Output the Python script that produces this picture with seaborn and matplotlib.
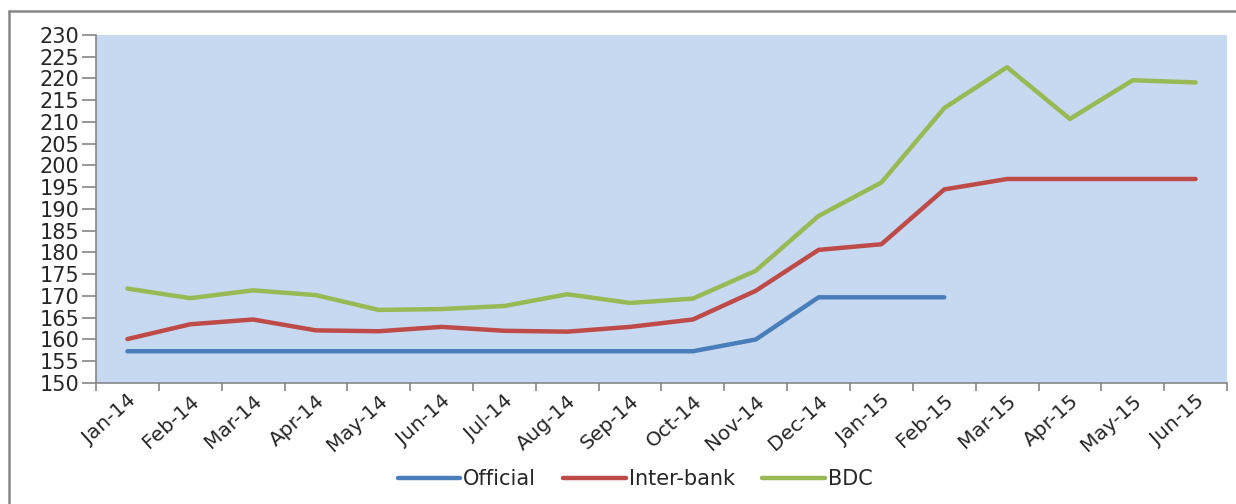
import numpy as np
import pandas as pd
import seaborn as sns
from matplotlib import pyplot as plt
from matplotlib.lines import Line2D
from matplotlib.ticker import FixedLocator

# exchange rate data (N/US$)
months = ['Jan-14', 'Feb-14', 'Mar-14', 'Apr-14', 'May-14', 'Jun-14', 'Jul-14', 'Aug-14', 'Sep-14',
          'Oct-14', 'Nov-14', 'Dec-14', 'Jan-15', 'Feb-15', 'Mar-15', 'Apr-15', 'May-15', 'Jun-15']
official = [157.3, 157.3, 157.3, 157.3, 157.3, 157.3, 157.3, 157.3, 157.3,
            157.3, 160.0, 169.7, 169.7, 169.7, np.nan, np.nan, np.nan, np.nan]
interbank = [160.1, 163.5, 164.6, 162.1, 161.9, 162.9, 162.0, 161.8, 162.9,
             164.6, 171.2, 180.6, 181.9, 194.5, 196.9, 196.9, 196.9, 196.9]
bdc = [171.7, 169.5, 171.3, 170.2, 166.8, 167.0, 167.7, 170.4, 168.4,
       169.4, 175.8, 188.4, 196.1, 213.2, 222.6, 210.7, 219.6, 219.1]

series_names = ['Official', 'Inter-bank', 'BDC']
colors = ['#4A7EBB', '#BE4B48', '#98B954']

df = pd.DataFrame({'Month': months, 'Official': official, 'Inter-bank': interbank, 'BDC': bdc})
long_df = df.melt(id_vars='Month', var_name='Series', value_name='Rate').dropna()

sns.set_style('white')
plt.rcParams['font.family'] = ['DejaVu Sans']

fig = plt.figure(figsize=(12.36, 5.04), dpi=100)
ax = fig.add_axes([96 / 1236, 1 - 383 / 504, (1227 - 96) / 1236, (383 - 35) / 504])

sns.lineplot(data=long_df, x='Month', y='Rate', hue='Series', hue_order=series_names,
             palette=colors, linewidth=3.2, sort=False, ax=ax)

ax.set_facecolor('#C6D9F0')
ax.set_xlim(-0.5, len(months) - 0.5)
ax.set_ylim(150, 230)
ax.set_yticks(np.arange(150, 231, 5))
ax.set_xlabel('')
ax.set_ylabel('')

for s in ['top', 'right']:
    ax.spines[s].set_visible(False)
for s in ['left', 'bottom']:
    ax.spines[s].set_color('#868686')
    ax.spines[s].set_linewidth(1.2)

# category labels in the middle, tick marks between categories like Excel
ax.set_xticks(range(len(months)))
ax.set_xticklabels(months, rotation=42, ha='right', rotation_mode='anchor', fontsize=14.5)
ax.tick_params(axis='x', which='major', length=0, pad=6)
ax.xaxis.set_minor_locator(FixedLocator(np.arange(-0.5, len(months), 1)))
ax.tick_params(axis='x', which='minor', bottom=True, length=6, color='#868686', width=1.2)
ax.tick_params(axis='y', left=True, length=10, color='#868686', width=1.2, labelsize=15, pad=2)

leg = ax.legend(loc='center', bbox_to_anchor=(635 / 1236, 1 - 479 / 504), bbox_transform=fig.transFigure,
                ncol=3, frameon=False, fontsize=15, handlelength=3.0, handletextpad=0.15,
                columnspacing=1.3)
for h in leg.get_lines():
    h.set_linewidth(3.2)

# outer chart border
fig.add_artist(Line2D([9 / 1236, 1], [1 - 11 / 504, 1 - 11 / 504], color='#868686', lw=1.8))
fig.add_artist(Line2D([9 / 1236, 9 / 1236], [0, 1 - 11 / 504], color='#868686', lw=1.8))

plt.savefig('out.png', dpi=100)
